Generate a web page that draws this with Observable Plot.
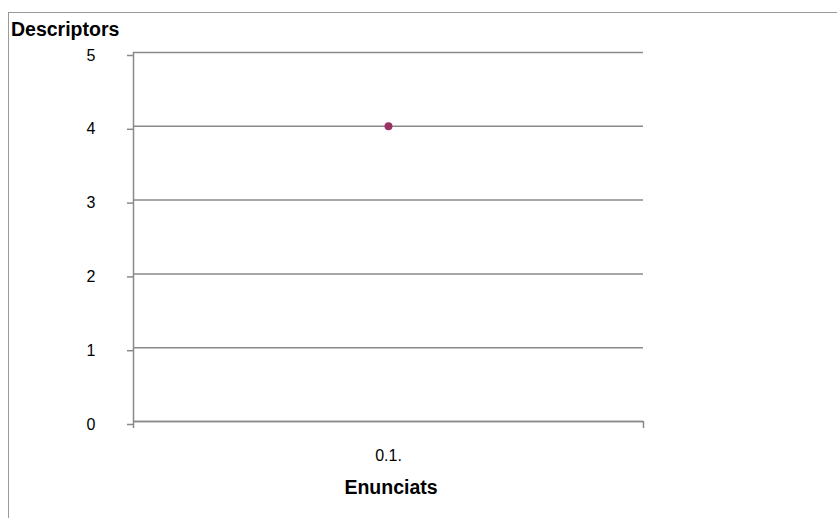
<!DOCTYPE html>
<html>
<head>
<meta charset="utf-8">
<script src="https://cdn.jsdelivr.net/npm/d3@7"></script>
<script src="https://cdn.jsdelivr.net/npm/@observablehq/plot@0.6"></script>
<style>
  html, body { margin: 0; padding: 0; background: #fff; overflow: hidden; }
  #wrap { position: relative; width: 837px; height: 518px; }
  #box { position: absolute; left: 8px; top: 12px; width: 900px; height: 600px;
         border: 1.5px solid #9a9a9a; box-sizing: border-box; }
  #chart { position: absolute; left: 0; top: 0; }
  #chart svg text { font-size: 16px; }
  .ttl { position: absolute; font-family: "Liberation Sans", Arial, sans-serif;
         font-weight: bold; font-size: 19.5px; color: #000; white-space: nowrap; }
</style>
</head>
<body>
<div id="wrap">
  <div id="box"></div>
  <div id="chart"></div>
  <div class="ttl" id="ytitle" style="left:11px; top:18px;">Descriptors</div>
  <div class="ttl" id="xtitle" style="left:0; width:782px; text-align:center; top:476px;">Enunciats</div>
</div>
<script>
// Categories on the horizontal axis and the single series plotted against them
const categories = ["0.1."];
const values = [4];
const yTicks = [0, 1, 2, 3, 4, 5];

const idx = categories.map((_, i) => i + 1);
const data = categories.map((c, i) => ({cat: c, i: i + 1, v: values[i]}));
// category boundaries carry the small tick marks, as on a category axis
const bounds = [0.5, ...idx.map(i => i + 0.5)];

const gridColor = "#8a8a8a";
const font = "'Liberation Sans', Arial, sans-serif";

const chart = Plot.plot({
  width: 837,
  height: 518,
  marginLeft: 133,
  marginRight: 194,
  marginTop: 52,
  marginBottom: 97,
  style: {fontFamily: font, fontSize: "16px", color: "#000", background: "transparent"},
  x: {type: "linear", domain: [0.5, categories.length + 0.5]},
  y: {domain: [0, 5]},
  marks: [
    Plot.gridY(yTicks, {stroke: gridColor, strokeOpacity: 1, strokeWidth: 1.5}),
    Plot.ruleY([0], {stroke: gridColor, strokeWidth: 1.5}),
    Plot.ruleX([0.5], {stroke: gridColor, strokeWidth: 1.5}),
    Plot.axisY(yTicks, {
      tickSize: 6, tickPadding: 32, stroke: gridColor, strokeWidth: 1.5,
      tickFormat: d3.format("d"), fill: "#000", dy: 3, label: null
    }),
    Plot.axisX(bounds, {
      tickSize: 7, stroke: gridColor, strokeWidth: 1.5, tickFormat: () => "", label: null
    }),
    Plot.axisX(idx, {
      tickSize: 0, tickPadding: 28, tickFormat: i => categories[i - 1],
      fill: "#000", label: null, letterSpacing: "1.5px"
    }),
    Plot.dot(data, {x: "i", y: "v", r: 4, fill: "#993366", stroke: "none"})
  ]
});
document.getElementById("chart").appendChild(chart);
</script>
</body>
</html>
